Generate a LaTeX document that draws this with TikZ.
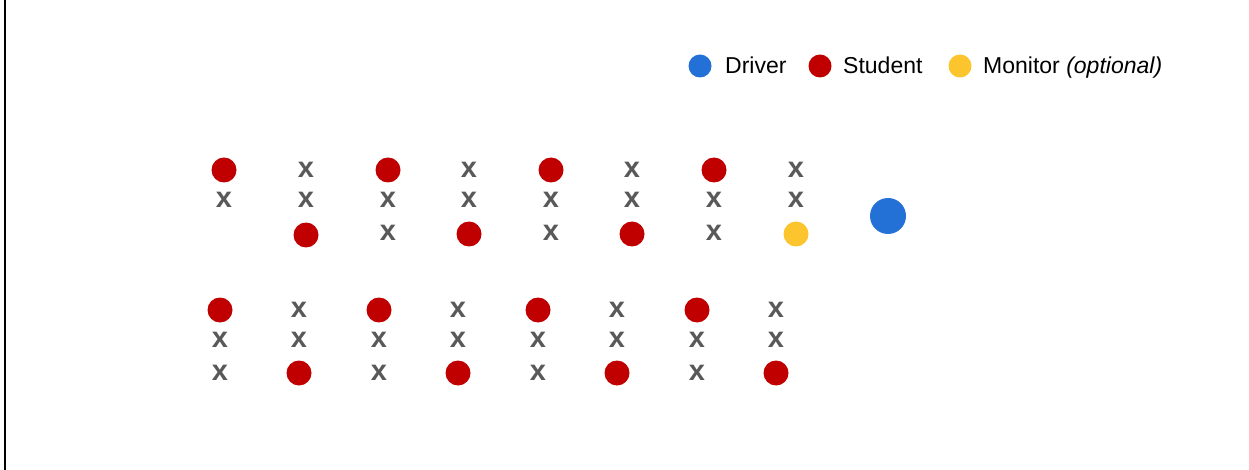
\documentclass[tikz,border=0pt]{standalone}
\usepackage{fontspec}
\setmainfont{Liberation Sans}
\usepackage{xcolor}
\definecolor{studentred}{HTML}{C00000}
\definecolor{driverblue}{HTML}{2371D6}
\definecolor{monitoryellow}{HTML}{FCC42D}
\definecolor{seatgray}{HTML}{595959}
\tikzset{
  student/.style={circle,fill=studentred,inner sep=0pt,minimum size=25pt},
  monitor/.style={circle,fill=monitoryellow,inner sep=0pt,minimum size=25pt},
  driver/.style={circle,fill=driverblue,inner sep=0pt,minimum size=36pt},
  seat/.style={text=seatgray,inner sep=0pt,font=\fontsize{29}{29}\selectfont\bfseries},
  keydot/.style={circle,inner sep=0pt,minimum size=23pt},
  keytext/.style={anchor=base west,inner sep=0pt,font=\fontsize{23}{23}\selectfont}
}
\begin{document}
\begin{tikzpicture}[x=1pt,y=-1pt]
\useasboundingbox (0,0) rectangle (1249,470);
\draw[line width=2.5pt] (5,0) -- (5,470);
% legend
\node[keydot,fill=driverblue] (kd) at (700,66) {};
\node[keytext] (kdt) at (725,74) {Driver};
\node[keydot,fill=studentred] (ks) at (820,66) {};
\node[keytext] (kst) at (843,74) {Student};
\node[keydot,fill=monitoryellow] (km) at (960,66) {};
\node[keytext] (kmt) at (983,74) {Monitor \textit{(optional)}};
% front rows
\begin{scope}
\node[student] (a11) at (224,170) {};  \node[seat] (a12) at (224,200) {x};
\node[seat] (a21) at (306,170) {x};    \node[seat] (a22) at (306,200) {x};  \node[student] (a23) at (306,235) {};
\node[student] (a31) at (388,170) {};  \node[seat] (a32) at (388,200) {x};  \node[seat] (a33) at (388,233) {x};
\node[seat] (a41) at (469,170) {x};    \node[seat] (a42) at (469,200) {x};  \node[student] (a43) at (469,234) {};
\node[student] (a51) at (551,170) {};  \node[seat] (a52) at (551,200) {x};  \node[seat] (a53) at (551,233) {x};
\node[seat] (a61) at (632,170) {x};    \node[seat] (a62) at (632,200) {x};  \node[student] (a63) at (632,234) {};
\node[student] (a71) at (714,170) {};  \node[seat] (a72) at (714,200) {x};  \node[seat] (a73) at (714,233) {x};
\node[seat] (a81) at (796,170) {x};    \node[seat] (a82) at (796,200) {x};  \node[monitor] (a83) at (796,234) {};
\node[driver] (drv) at (888,216) {};
\end{scope}
% back rows
\begin{scope}
\node[student] (b11) at (220,310) {};  \node[seat] (b12) at (220,340) {x};  \node[seat] (b13) at (220,373) {x};
\node[seat] (b21) at (299,310) {x};    \node[seat] (b22) at (299,340) {x};  \node[student] (b23) at (299,373) {};
\node[student] (b31) at (379,310) {};  \node[seat] (b32) at (379,340) {x};  \node[seat] (b33) at (379,373) {x};
\node[seat] (b41) at (458,310) {x};    \node[seat] (b42) at (458,340) {x};  \node[student] (b43) at (458,373) {};
\node[student] (b51) at (538,310) {};  \node[seat] (b52) at (538,340) {x};  \node[seat] (b53) at (538,373) {x};
\node[seat] (b61) at (617,310) {x};    \node[seat] (b62) at (617,340) {x};  \node[student] (b63) at (617,373) {};
\node[student] (b71) at (697,310) {};  \node[seat] (b72) at (697,340) {x};  \node[seat] (b73) at (697,373) {x};
\node[seat] (b81) at (776,310) {x};    \node[seat] (b82) at (776,340) {x};  \node[student] (b83) at (776,373) {};
\end{scope}
\end{tikzpicture}
\end{document}
